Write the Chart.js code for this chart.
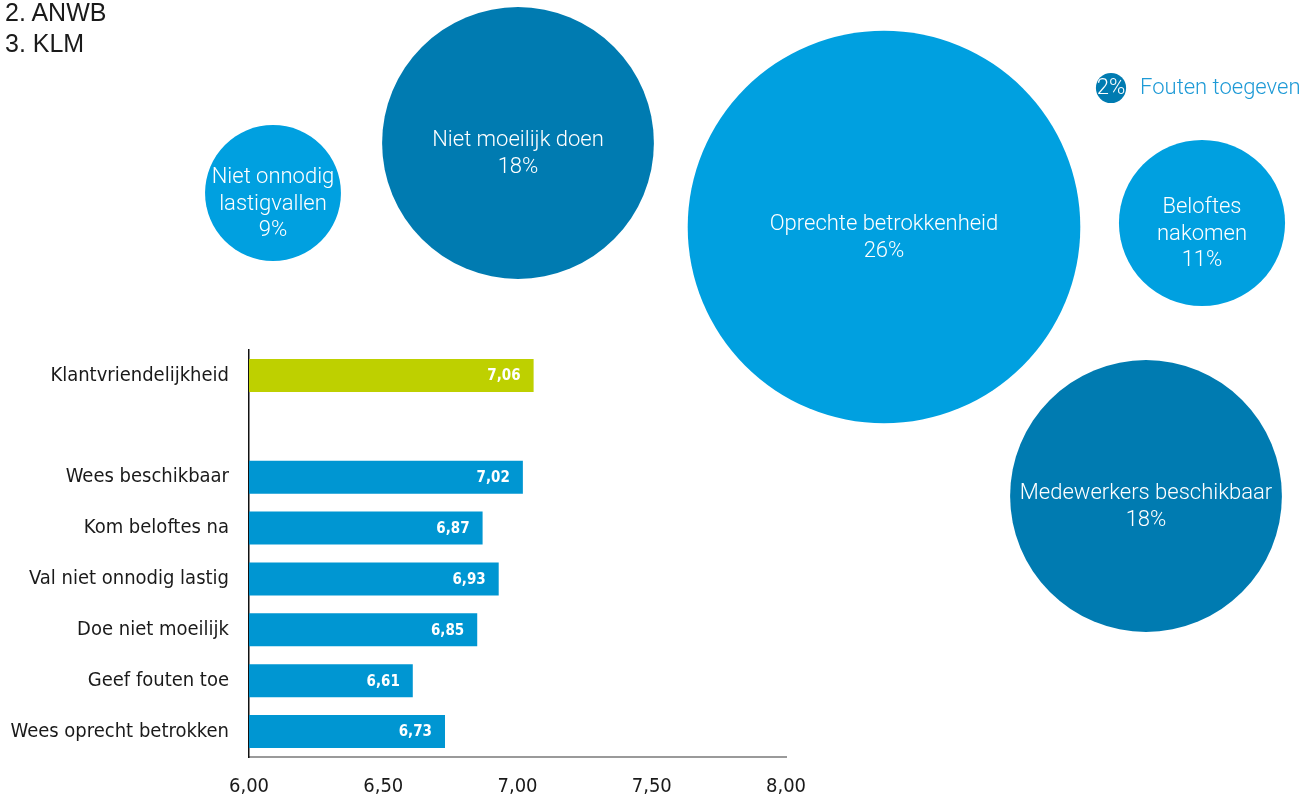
<!DOCTYPE html>
<html lang="nl">
<head>
<meta charset="utf-8">
<title>Klantvriendelijkheid</title>
<script src="https://cdn.jsdelivr.net/npm/chart.js@4/dist/chart.umd.min.js"></script>
<style>
  body { margin: 0; background: #fff; }
  #wrap { position: relative; width: 1307px; height: 801px; overflow: hidden; }
  #bubbles { position: absolute; left: 0; top: 0; }
  #bars { position: absolute; left: 0; top: 330px; }
  #ranking {
    position: absolute; left: 5px; top: -3px;
    font: 25px "Liberation Sans", Arial, sans-serif; line-height: 31px; color: #1a1a1a;
  }
</style>
</head>
<body>
<div id="wrap">
  <canvas id="bubbles" width="1307" height="801"></canvas>
  <canvas id="bars" width="830" height="471"></canvas>
  <div id="ranking">2. ANWB<br>3. KLM</div>
</div>
<script>
// bubbles: what matters most to customers (share in %)
const bubbleNames = ['Niet onnodig\nlastigvallen', 'Niet moeilijk doen', 'Oprechte betrokkenheid',
                     'Fouten toegeven', 'Beloftes\nnakomen', 'Medewerkers beschikbaar'];
const bubblePct = [9, 18, 26, 2, 11, 18];
const bubbleTone = ['light', 'dark', 'light', 'dark', 'light', 'dark'];
// where each bubble sits in the cluster
const bubbleX = [273, 518, 884, 1111, 1202, 1146];
const bubbleY = [193, 143, 227, 88, 223, 496];

// bars: average score per aspect
const barLabels = ['Klantvriendelijkheid', '', 'Wees beschikbaar', 'Kom beloftes na',
                   'Val niet onnodig lastig', 'Doe niet moeilijk', 'Geef fouten toe', 'Wees oprecht betrokken'];
const barValues = [7.06, null, 7.02, 6.87, 6.93, 6.85, 6.61, 6.73];
const barTotal = [true, false, false, false, false, false, false, false];

const PX_PER_PCT = 7.55;
const LIGHT = '#00A0E0', DARK = '#007BB1';
const BAR_BLUE = '#0096D2', BAR_GREEN = '#BED000';
const BUBBLE_FONT = '300 22px Roboto, "Liberation Sans", Arial, sans-serif';
const nl = v => v.toFixed(2).replace('.', ',');

const bubbleLabels = {
  id: 'bubbleLabels',
  afterDatasetsDraw(chart) {
    const ctx = chart.ctx;
    const meta = chart.getDatasetMeta(0);
    ctx.save();
    ctx.textAlign = 'center';
    ctx.textBaseline = 'middle';
    ctx.font = BUBBLE_FONT;
    meta.data.forEach((pt, i) => {
      const r = pt.options.radius;
      const pct = bubblePct[i] + '%';
      if (r < 30) {
        // too small to hold the name: percentage inside, name beside it
        ctx.fillStyle = '#ffffff';
        ctx.fillText(pct, pt.x, pt.y);
        ctx.textAlign = 'left';
        ctx.fillStyle = '#1E9AD6';
        ctx.fillText(bubbleNames[i], pt.x + r + 14, pt.y);
        ctx.textAlign = 'center';
        return;
      }
      const lines = bubbleNames[i].split('\n').concat(pct);
      const lh = 26.5;
      const y0 = pt.y + 11 - (lines.length - 1) * lh / 2;
      ctx.fillStyle = '#ffffff';
      lines.forEach((t, k) => ctx.fillText(t, pt.x, y0 + k * lh));
    });
    ctx.restore();
  }
};

new Chart(document.getElementById('bubbles'), {
  type: 'bubble',
  data: {
    datasets: [{
      data: bubblePct.map((p, i) => ({ x: bubbleX[i], y: bubbleY[i], r: p * PX_PER_PCT })),
      backgroundColor: bubbleTone.map(t => t === 'dark' ? DARK : LIGHT),
      borderWidth: 0,
      hoverBorderWidth: 0,
      clip: false
    }]
  },
  options: {
    responsive: false,
    animation: false,
    events: [],
    layout: { padding: 0, autoPadding: false },
    plugins: { legend: { display: false }, tooltip: { enabled: false } },
    scales: {
      x: { display: false, min: 0, max: 1307 },
      y: { display: false, min: 0, max: 801, reverse: true }
    }
  },
  plugins: [bubbleLabels]
});

const barValueLabels = {
  id: 'barValueLabels',
  afterDatasetsDraw(chart) {
    const ctx = chart.ctx;
    ctx.save();
    ctx.fillStyle = '#ffffff';
    ctx.font = 'bold 15px "DejaVu Sans Condensed", "DejaVu Sans", sans-serif';
    ctx.textAlign = 'right';
    ctx.textBaseline = 'middle';
    chart.getDatasetMeta(0).data.forEach((bar, i) => {
      const v = barValues[i];
      if (v == null) return;
      ctx.fillText(nl(v), bar.x - 13, bar.y + 1);
    });
    ctx.restore();
  }
};

const axisFont = { family: '"DejaVu Sans Condensed", "DejaVu Sans", sans-serif', size: 20 };

new Chart(document.getElementById('bars'), {
  type: 'bar',
  data: {
    labels: barLabels,
    datasets: [{
      data: barValues,
      backgroundColor: barTotal.map(t => t ? BAR_GREEN : BAR_BLUE),
      barPercentage: 0.65,
      categoryPercentage: 1.0,
      borderWidth: 0
    }]
  },
  options: {
    indexAxis: 'y',
    responsive: false,
    animation: false,
    events: [],
    layout: { padding: { top: 20, right: 44, left: 0, bottom: 0 } },
    plugins: { legend: { display: false }, tooltip: { enabled: false } },
    scales: {
      x: {
        min: 6, max: 8,
        afterFit: s => { s.height = 44; },
        grid: { display: false, drawTicks: false },
        border: { display: true, color: '#9a9a9a', width: 2 },
        ticks: {
          stepSize: 0.5,
          padding: 18,
          color: '#1a1a1a',
          font: axisFont,
          callback: v => nl(v)
        }
      },
      y: {
        // fixed label column; no extra room above/below the first and last row
        afterFit: s => { s.width = 249; s.paddingTop = 0; s.paddingBottom = 0; },
        grid: { display: false, drawTicks: false },
        border: { display: true, color: '#111111', width: 1.5 },
        ticks: {
          padding: 20,
          color: '#1a1a1a',
          font: axisFont,
          autoSkip: false
        }
      }
    }
  },
  plugins: [barValueLabels]
});
</script>
</body>
</html>
